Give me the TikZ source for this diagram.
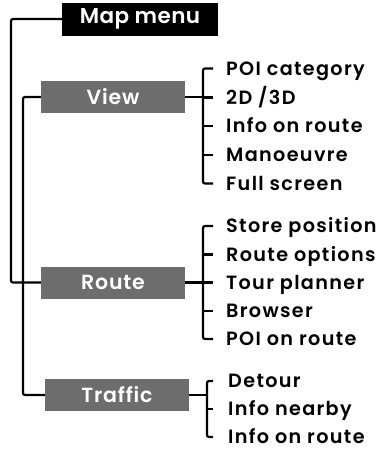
\documentclass[tikz,border=0pt]{standalone}
\usepackage{fontspec}
\setmainfont{Poppins}[BoldFont={Poppins SemiBold},Ligatures=NoCommon]
\begin{document}
\begin{tikzpicture}[x=1pt,y=-1pt,
  conn/.style={line width=2.2pt,rounded corners=2pt},
  topbox/.style={fill=black,text=white,minimum width=156pt,minimum height=33pt,inner sep=0pt,font=\fontsize{21.5}{22}\selectfont\bfseries\addfontfeatures{LetterSpace=2}},
  subbox/.style={fill=menugray,text=white,minimum width=144pt,minimum height=32pt,inner sep=0pt,font=\fontsize{20.5}{22}\selectfont\bfseries\addfontfeatures{LetterSpace=4}},
  item/.style={anchor=west,inner sep=0pt,text height=13pt,text depth=0pt,font=\fontsize{19.2}{20}\selectfont\bfseries\addfontfeatures{LetterSpace=7}}]
\definecolor{menugray}{HTML}{6D6D6D}
\useasboundingbox (0,0) rectangle (379,451);
\node[topbox] (map) at (140,19) {Map menu};
\node[subbox] (view) at (113,97) {View};
\node[subbox] (route) at (113,282.5) {Route};
\node[subbox] (traffic) at (117,395) {Traffic};
% view items
\node[item] (v1) at (226,68.5) {POI category};
\node[item] (v2) at (226,97.5) {2D /3D};
\node[item] (v3) at (226,126) {Info on route};
\node[item] (v4) at (226,155) {Manoeuvre};
\node[item] (v5) at (226,183.5) {Full screen};
% route items
\node[item] (r1) at (226,226) {Store position};
\node[item] (r2) at (226,254.5) {Route options};
\node[item] (r3) at (226,282.5) {Tour planner};
\node[item] (r4) at (226,311) {Browser};
\node[item] (r5) at (226,339) {POI on route};
% traffic items
\node[item] (t1) at (228,381) {Detour};
\node[item] (t2) at (228,409) {Info nearby};
\node[item] (t3) at (228,437) {Info on route};
% main trunks
\coordinate (ta) at (11,0);
\coordinate (tb) at (23,0);
\draw[conn] (map.west) -- (map.west -| ta) -- (route.west -| ta) -- (route.west);
\draw[conn] (view.west) -- (view.west -| tb) -- (traffic.west -| tb) -- (traffic.west);
% view bracket
\coordinate (vb) at (203,0);
\draw[conn] ([xshift=-13pt]v1.west) -- (v1.west -| vb) -- (v5.west -| vb) -- ([xshift=-13pt]v5.west);
\foreach \n in {v2,v3,v4} \draw[conn] (\n.west -| vb) -- ([xshift=-13pt]\n.west);
\draw[conn] (view.east) -- (view.east -| vb);
% route bracket
\draw[conn] ([xshift=-13pt]r1.west) -- (r1.west -| vb) -- (r5.west -| vb) -- ([xshift=-13pt]r5.west);
\foreach \n in {r2,r3,r4} \draw[conn] (\n.west -| vb) -- ([xshift=-13pt]\n.west);
\draw[conn] (route.east) -- (route.east -| vb);
% traffic bracket
\coordinate (tbk) at (207,0);
\draw[conn] ([xshift=-15pt]t1.west) -- (t1.west -| tbk) -- (t3.west -| tbk) -- ([xshift=-15pt]t3.west);
\draw[conn] (t2.west -| tbk) -- ([xshift=-15pt]t2.west);
\draw[conn] (traffic.east) -- (traffic.east -| tbk);
\end{tikzpicture}
\end{document}
